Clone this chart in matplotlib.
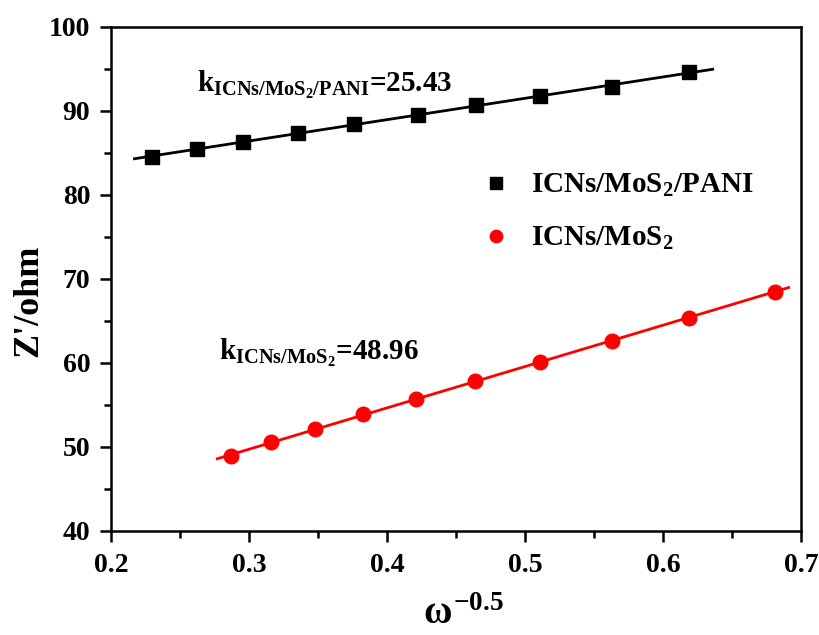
import matplotlib
matplotlib.use('Agg')
import matplotlib.pyplot as plt
from matplotlib.ticker import MultipleLocator
import numpy as np

plt.rcParams['font.family'] = 'Liberation Serif'
plt.rcParams['font.weight'] = 'bold'
plt.rcParams['mathtext.fontset'] = 'custom'
plt.rcParams['mathtext.rm'] = 'Liberation Serif:bold'
plt.rcParams['mathtext.it'] = 'Liberation Serif:bold'
plt.rcParams['mathtext.bf'] = 'Liberation Serif:bold'

# ICNs/MoS2/PANI
x_pani = [0.2297, 0.2623, 0.2957, 0.3355, 0.3761, 0.4225, 0.4645, 0.5109, 0.5630, 0.6188]
z_pani = [84.5, 85.5, 86.3, 87.4, 88.5, 89.5, 90.7, 91.8, 92.9, 94.6]
fit_range_pani = [0.217, 0.636]

# ICNs/MoS2
x_mos = [0.2870, 0.3159, 0.3478, 0.3826, 0.4210, 0.4638, 0.5109, 0.5630, 0.6188, 0.6812]
z_mos = [48.9, 50.6, 52.1, 53.9, 55.7, 57.9, 60.1, 62.6, 65.4, 68.5]
fit_range_mos = [0.277, 0.691]

fig = plt.figure(figsize=(8.19, 6.35), dpi=100)
ax = fig.add_axes([111/819, 1 - 531/635, 690/819, 504/635])

p1 = np.polyfit(x_pani, z_pani, 1)
p2 = np.polyfit(x_mos, z_mos, 1)
xf1 = np.array(fit_range_pani)
xf2 = np.array(fit_range_mos)
ax.plot(xf1, np.polyval(p1, xf1), color='black', lw=2)
ax.plot(xf2, np.polyval(p2, xf2), color='red', lw=2)

ax.plot(x_pani, z_pani, 's', color='black', ms=9.5, label='ICNs/MoS$_2$/PANI')
ax.plot(x_mos, z_mos, 'o', color='red', ms=10.5, label='ICNs/MoS$_2$')

ax.set_xlim(0.2, 0.7)
ax.set_ylim(40, 100)
ax.xaxis.set_major_locator(MultipleLocator(0.1))
ax.xaxis.set_minor_locator(MultipleLocator(0.05))
ax.yaxis.set_major_locator(MultipleLocator(10))
ax.yaxis.set_minor_locator(MultipleLocator(5))
ax.tick_params(which='major', direction='out', length=8, width=1.8, labelsize=20)
ax.tick_params(axis='y', which='major', pad=7)
ax.tick_params(axis='x', which='major', pad=8)
ax.tick_params(which='minor', direction='out', length=5, width=1.8)
for s in ax.spines.values():
    s.set_linewidth(1.8)

# x label: omega with a raised "-0.5"
fig.text(463/819, 2/635, r'$\omega^{\mathrm{-0.5}}$', fontsize=28, ha='center', va='bottom')

ax.set_ylabel("Z'/ohm", fontsize=26, fontweight='bold')
ax.yaxis.set_label_coords(-0.096, 0.456)

ax.text(0.125, 0.871, r'k$_{\mathrm{ICNs/MoS_2/PANI}}$=25.43', transform=ax.transAxes, fontsize=21)
ax.text(0.157, 0.339, r'k$_{\mathrm{ICNs/MoS_2}}$=48.96', transform=ax.transAxes, fontsize=21)

ax.legend(loc='upper left', bbox_to_anchor=(0.526, 0.712), frameon=False, fontsize=21,
          handletextpad=0.45, labelspacing=0.88, handlelength=1.5, borderpad=0,
          borderaxespad=0, markerscale=0.85)

fig.savefig('out.png', dpi=100)
